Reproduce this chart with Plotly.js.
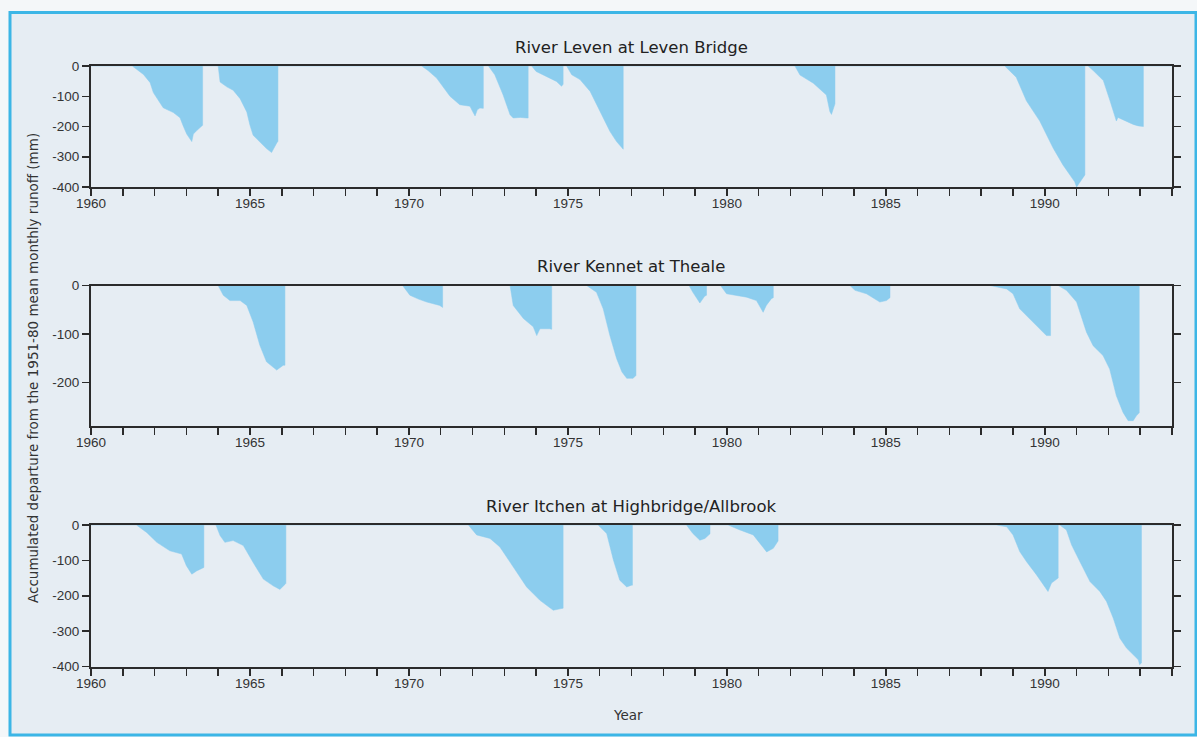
<!DOCTYPE html>
<html>
<head>
<meta charset="utf-8">
<script src="https://cdn.plot.ly/plotly-3.0.1.min.js"></script>
<style>
  html, body { margin: 0; padding: 0; background: #f4f7f9; }
  #chart { width: 1197px; height: 737px; }
</style>
</head>
<body>
<div id="chart"></div>
<script>
// Accumulated departure from the 1951-80 mean monthly runoff (mm), by decimal year.
// Each drought episode starts at 0, follows the running deficit and returns to 0.

const stationTitles = [
  'River Leven at Leven Bridge',
  'River Kennet at Theale',
  'River Itchen at Highbridge/Allbrook'
];

const levenYear = [
  1960.0, 1961.3, 1961.65, 1961.86, 1961.96, 1962.17, 1962.27, 1962.59, 1962.8, 1962.9, 1963.01, 1963.17, 1963.22, 1963.32, 1963.43, 1963.51, 1963.51,
  1964.0, 1964.06, 1964.27, 1964.47, 1964.69, 1964.9, 1965.0, 1965.1, 1965.31, 1965.52, 1965.68, 1965.79, 1965.86, 1965.88, 1965.88,
  1970.4, 1970.6, 1970.87, 1971.1, 1971.29, 1971.6, 1971.92, 1972.0, 1972.08, 1972.15, 1972.23, 1972.34, 1972.34,
  1972.5, 1972.7, 1972.96, 1973.18, 1973.28, 1973.5, 1973.7, 1973.75, 1973.75,
  1973.86, 1974.0, 1974.32, 1974.64, 1974.8, 1974.85, 1974.85,
  1974.96, 1975.12, 1975.38, 1975.7, 1976.0, 1976.32, 1976.53, 1976.69, 1976.74, 1976.74,
  1982.14, 1982.3, 1982.72, 1983.13, 1983.24, 1983.29, 1983.4, 1983.4,
  1988.74, 1989.1, 1989.42, 1989.84, 1990.05, 1990.26, 1990.57, 1990.79, 1990.94, 1991.0, 1991.1, 1991.26, 1991.26,
  1991.36, 1991.52, 1991.84, 1992.05, 1992.2, 1992.25, 1992.3, 1992.57, 1992.78, 1992.94, 1993.1, 1993.1, 1994.0
];
const levenDeparture = [
  0, 0, -28, -55, -88, -121, -138, -154, -171, -198, -225, -250, -225, -214, -202, -196, 0,
  0, -53, -69, -80, -108, -152, -196, -229, -251, -273, -286, -262, -251, -250, 0,
  0, -15, -40, -75, -100, -128, -133, -150, -165, -145, -139, -140, 0,
  0, -29, -95, -161, -172, -170, -172, -172, 0,
  0, -18, -34, -51, -67, -60, 0,
  0, -29, -45, -84, -150, -216, -250, -267, -275, 0,
  0, -30, -57, -96, -151, -160, -125, 0,
  0, -37, -115, -182, -227, -271, -327, -361, -383, -400, -385, -360, 0,
  0, -15, -48, -115, -160, -182, -170, -184, -193, -198, -200, 0, 0
];

const kennetYear = [
  1960.0, 1964.0, 1964.16, 1964.37, 1964.69, 1964.9, 1965.1, 1965.31, 1965.52, 1965.84, 1966.05, 1966.1, 1966.1,
  1969.8, 1970.03, 1970.3, 1970.56, 1970.97, 1971.06, 1971.06,
  1973.18, 1973.28, 1973.6, 1973.91, 1974.02, 1974.12, 1974.43, 1974.49, 1974.49,
  1975.59, 1975.9, 1976.11, 1976.32, 1976.53, 1976.7, 1976.85, 1977.05, 1977.14, 1977.14,
  1978.81, 1978.93, 1979.15, 1979.3, 1979.36, 1979.36,
  1979.8, 1979.99, 1980.62, 1980.93, 1981.14, 1981.24, 1981.4, 1981.46, 1981.46,
  1983.87, 1984.03, 1984.39, 1984.81, 1985.02, 1985.13, 1985.13,
  1988.27, 1988.8, 1989.0, 1989.21, 1989.63, 1990.05, 1990.18, 1990.18,
  1990.42, 1990.68, 1991.0, 1991.31, 1991.52, 1991.83, 1992.04, 1992.25, 1992.46, 1992.62, 1992.78, 1992.88, 1992.97, 1992.97, 1994.0
];
const kennetDeparture = [
  0, 0, -20, -31, -31, -41, -75, -123, -157, -174, -164, -164, 0,
  0, -20, -28, -34, -41, -45, 0,
  0, -41, -68, -85, -103, -89, -89, -90, 0,
  0, -14, -48, -103, -150, -178, -191, -191, -185, 0,
  0, -14, -36, -22, -20, 0,
  0, -17, -24, -31, -55, -41, -27, -25, 0,
  0, -10, -17, -34, -31, -25, 0,
  0, -7, -17, -48, -76, -103, -103, 0,
  0, -10, -34, -96, -124, -144, -172, -227, -261, -278, -278, -268, -262, 0, 0
];

const itchenYear = [
  1960.0, 1961.43, 1961.75, 1962.07, 1962.48, 1962.85, 1963.0, 1963.17, 1963.32, 1963.48, 1963.55, 1963.55,
  1963.93, 1964.06, 1964.21, 1964.47, 1964.79, 1965.1, 1965.42, 1965.73, 1965.94, 1966.1, 1966.13, 1966.13,
  1971.87, 1972.13, 1972.55, 1972.86, 1973.28, 1973.7, 1974.12, 1974.54, 1974.75, 1974.85, 1974.85,
  1975.95, 1976.22, 1976.43, 1976.63, 1976.85, 1977.0, 1977.03, 1977.03,
  1978.73, 1978.93, 1979.15, 1979.31, 1979.47, 1979.47,
  1980.04, 1980.41, 1980.83, 1981.04, 1981.25, 1981.46, 1981.56, 1981.61, 1981.61,
  1988.48, 1988.8, 1989.0, 1989.21, 1989.42, 1989.74, 1989.95, 1990.1, 1990.21, 1990.37, 1990.42, 1990.42,
  1990.47, 1990.68, 1990.84, 1991.1, 1991.42, 1991.73, 1991.94, 1992.15, 1992.36, 1992.57, 1992.78, 1992.94, 1992.98, 1993.04, 1993.04, 1994.0
];
const itchenDeparture = [
  0, 0, -21, -49, -73, -82, -115, -139, -130, -123, -120, 0,
  0, -30, -49, -44, -58, -106, -153, -172, -182, -168, -165, 0,
  0, -28, -38, -62, -118, -175, -213, -241, -237, -235, 0,
  0, -24, -99, -156, -175, -170, -170, 0,
  0, -24, -43, -38, -25, 0,
  0, -14, -28, -52, -76, -66, -52, -45, 0,
  0, -5, -28, -75, -103, -141, -169, -188, -164, -155, -150, 0,
  0, -14, -56, -103, -160, -188, -216, -263, -320, -348, -367, -381, -395, -390, 0, 0
];

// y ranges (mm) and labelled ticks for each panel
const yMin = [-400, -288, -400];
const yTickVals = [0, -100, -200, -300, -400];
const yTickText = ['0', '-100', '-200', '-300', '-400'];

const W = 1197, H = 737;
const fillColor = '#8ccdee';
const inkColor = '#2b2b2b';
const tickFont = { family: 'Liberation Sans, Arial, sans-serif', size: 13.5, color: '#333' };

// plot frames in pixels: [top, bottom]
const frames = [[66, 187], [285.5, 425.5], [525, 666.5]];
const xDomain = [91 / W, 1172 / W];

const series = [
  [levenYear, levenDeparture],
  [kennetYear, kennetDeparture],
  [itchenYear, itchenDeparture]
];

const traces = series.map(([x, y], i) => ({
  type: 'scatter',
  mode: 'lines',
  x: x,
  y: y,
  xaxis: i === 0 ? 'x' : 'x' + (i + 1),
  yaxis: i === 0 ? 'y' : 'y' + (i + 1),
  fill: 'tozeroy',
  fillcolor: fillColor,
  line: { color: fillColor, width: 0.5 },
  hoverinfo: 'x+y',
  showlegend: false
}));

const layout = {
  width: W,
  height: H,
  margin: { l: 0, r: 0, t: 0, b: 0 },
  paper_bgcolor: '#f4f7f9',
  plot_bgcolor: 'rgba(0,0,0,0)',
  showlegend: false,
  font: tickFont,
  shapes: [{
    type: 'rect', xref: 'paper', yref: 'paper', layer: 'below',
    x0: 10 / W, x1: 1196 / W, y0: (H - 735) / H, y1: (H - 12.5) / H,
    fillcolor: '#e6edf3',
    line: { color: '#3cb6e6', width: 3 }
  }],
  annotations: []
};

const titleY = [47, 266, 506];

frames.forEach(([top, bottom], i) => {
  const sfx = i === 0 ? '' : String(i + 1);
  layout['xaxis' + sfx] = {
    domain: xDomain,
    anchor: 'y' + sfx,
    range: [1960, 1994],
    tick0: 1960,
    dtick: 5,
    ticks: 'outside',
    ticklen: 7,
    tickwidth: 1.5,
    tickcolor: inkColor,
    ticklabelstandoff: -4,
    minor: { dtick: 1, ticks: 'outside', ticklen: 7, tickwidth: 1.5, tickcolor: inkColor },
    showline: true,
    linecolor: inkColor,
    linewidth: 2,
    mirror: true,
    showgrid: false,
    zeroline: false,
    tickfont: tickFont,
    fixedrange: true
  };
  layout['yaxis' + sfx] = {
    domain: [(H - bottom) / H, (H - top) / H],
    anchor: 'x' + sfx,
    range: [yMin[i], 0],
    tickmode: 'array',
    tickvals: yTickVals,
    ticktext: yTickText,
    ticks: 'outside',
    ticklen: 7,
    tickwidth: 1.5,
    tickcolor: inkColor,
    showline: true,
    linecolor: inkColor,
    linewidth: 2,
    mirror: 'ticks',
    showgrid: false,
    zeroline: false,
    tickfont: tickFont,
    fixedrange: true
  };
  layout.annotations.push({
    text: stationTitles[i],
    xref: 'paper', yref: 'paper',
    x: (xDomain[0] + xDomain[1]) / 2,
    y: (H - titleY[i]) / H,
    xanchor: 'center', yanchor: 'middle',
    showarrow: false,
    font: { family: 'DejaVu Sans, sans-serif', size: 16.5, color: '#222' }
  });
});

// shared axis titles
layout.annotations.push({
  text: 'Year',
  xref: 'paper', yref: 'paper',
  x: 628 / W, y: (H - 715) / H,
  xanchor: 'center', yanchor: 'middle',
  showarrow: false,
  font: { family: 'DejaVu Sans, sans-serif', size: 13.5, color: '#333' }
});
layout.annotations.push({
  text: 'Accumulated departure from the 1951-80 mean monthly runoff (mm)',
  xref: 'paper', yref: 'paper',
  x: 33 / W, y: (H - 368) / H,
  xanchor: 'center', yanchor: 'middle',
  textangle: -90,
  showarrow: false,
  font: { family: 'DejaVu Sans, sans-serif', size: 13.5, color: '#333' }
});

Plotly.newPlot('chart', traces, layout, { displayModeBar: false, staticPlot: true });
</script>
</body>
</html>
